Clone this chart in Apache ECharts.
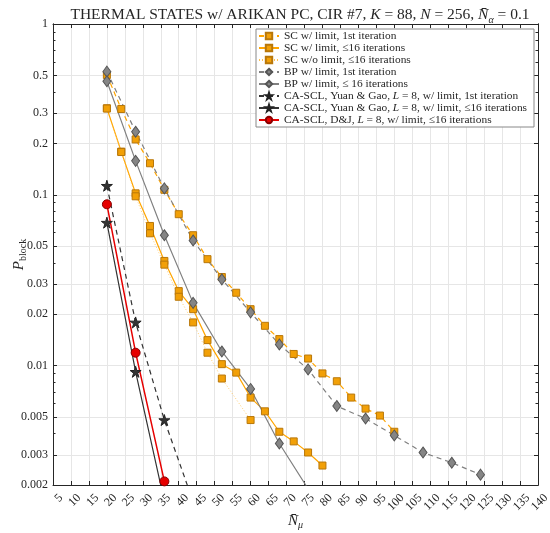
<!DOCTYPE html>
<html>
<head>
<meta charset="utf-8">
<script src="https://cdn.jsdelivr.net/npm/echarts@6/dist/echarts.min.js"></script>
<style>
  html, body { margin: 0; padding: 0; background: #fff; }
  #chart { width: 550px; height: 533px; }
</style>
</head>
<body>
<div id="chart"></div>
<script>
// values
const scFirstX = [20, 24, 28, 32, 36, 40, 44, 48, 52, 56, 60, 64, 68, 72, 76, 80, 84, 88, 92, 96, 100];
const scFirstY = [0.503, 0.318, 0.211, 0.153, 0.107, 0.077, 0.058, 0.042, 0.033, 0.0267, 0.0214, 0.0171, 0.0143, 0.0117, 0.011, 0.009, 0.0081, 0.0065, 0.0056, 0.0051, 0.0041];
const scAllX = [20, 24, 28, 32, 36, 40, 44, 48, 52, 56, 60, 64, 68, 72, 76, 80];
const scAllY = [0.321, 0.179, 0.102, 0.0657, 0.041, 0.0273, 0.0214, 0.0141, 0.0102, 0.0091, 0.0065, 0.0054, 0.0041, 0.0036, 0.0031, 0.0026];
const scNoLimX = [20, 24, 28, 32, 36, 40, 44, 48, 52, 60];
const scNoLimY = [0.32, 0.178, 0.098, 0.0595, 0.039, 0.0253, 0.0179, 0.0119, 0.0084, 0.0048];
const bpFirstX = [20, 28, 36, 44, 52, 60, 68, 76, 84, 92, 100, 108, 116, 124];
const bpFirstY = [0.526, 0.234, 0.109, 0.054, 0.032, 0.0205, 0.0133, 0.0095, 0.0058, 0.0049, 0.0039, 0.0031, 0.0027, 0.0023];
const bpAllX = [20, 28, 36, 44, 52, 60, 68, 76];
const bpAllY = [0.462, 0.158, 0.058, 0.0233, 0.0121, 0.0073, 0.0035, 0.0019];
const caFirstX = [20, 28, 36, 44];
const caFirstY = [0.113, 0.0179, 0.0048, 0.0016];
const caAllX = [20, 28, 36];
const caAllY = [0.0687, 0.0092, 0.0016];
const djX = [20, 28, 36];
const djY = [0.088, 0.0119, 0.0021];

const yLabels = [0.002, 0.003, 0.005, 0.01, 0.02, 0.03, 0.05, 0.1, 0.2, 0.3, 0.5, 1];
const yMinor = [0.004, 0.006, 0.007, 0.008, 0.009, 0.04, 0.06, 0.07, 0.08, 0.09, 0.4, 0.6, 0.7, 0.8, 0.9];

const names = [
  'SC w/ limit, 1st iteration',
  'SC w/ limit, \u226416 iterations',
  'SC w/o limit, \u226416 iterations',
  'BP w/ limit, 1st iteration',
  'BP w/ limit, \u2264 16 iterations',
  'CA-SCL, Yuan & Gao, L = 8, w/ limit, 1st iteration',
  'CA-SCL, Yuan & Gao, L = 8, w/ limit, \u226416 iterations',
  'CA-SCL, D&J, L = 8, w/ limit, \u226416 iterations'
];

const serif = '"Liberation Serif", "DejaVu Serif", serif';
const ink = '#262626';
const grey = '#e6e6e6';
const starPath = 'path://M50,0 L61,35 L98,35 L68,57 L79,91 L50,70 L21,91 L32,57 L2,35 L39,35 Z';

function pairs(xs, ys) {
  return xs.map((x, i) => [x, ys[i]]);
}

function line(name, xs, ys, color, type, width, symbol, size, fill, border) {
  return {
    name: name,
    type: 'line',
    data: pairs(xs, ys),
    clip: true,
    symbol: symbol,
    symbolSize: size,
    showAllSymbol: true,
    lineStyle: { color: color, width: width, type: type },
    itemStyle: { color: fill, borderColor: border, borderWidth: 1 },
    emphasis: { disabled: true },
    animation: false
  };
}

const orange = '#FFA500';
const series = [
  line(names[0], scFirstX, scFirstY, orange, [5, 4], 1.2, 'rect', 7, '#F2A007', '#B8770A'),
  line(names[1], scAllX, scAllY, orange, 'solid', 1.2, 'rect', 7, '#F2A007', '#B8770A'),
  line(names[2], scNoLimX, scNoLimY, '#FFC04D', [1, 2], 0.8, 'rect', 7, '#F2A007', '#B8770A'),
  line(names[3], bpFirstX, bpFirstY, '#808080', [5, 4], 1.2, 'diamond', [8, 11], '#858585', '#555'),
  line(names[4], bpAllX, bpAllY, '#808080', 'solid', 1.2, 'diamond', [8, 11], '#858585', '#555'),
  line(names[5], caFirstX, caFirstY, '#333', [5, 4], 1.2, starPath, 11, '#333', '#222'),
  line(names[6], caAllX, caAllY, '#333', 'solid', 1.2, starPath, 11, '#333', '#222'),
  line(names[7], djX, djY, '#E60000', 'solid', 1.5, 'circle', 9, '#E60000', '#8B0000')
];

function fmtY(v) {
  return String(+(+v).toPrecision(3));
}

const yBase = {
  type: 'log',
  logBase: 10,
  min: 0.002,
  max: 1,
  gridIndex: 0,
  axisLine: { show: true, onZero: false, lineStyle: { color: ink, width: 1 } },
  splitLine: { show: false },
  axisLabel: { show: false },
  axisTick: { show: false }
};

const subRich = {
  i: { fontFamily: serif, fontSize: 15, fontStyle: 'italic', color: ink, lineHeight: 18 },
  s: { fontFamily: serif, fontSize: 10, fontStyle: 'italic', color: ink, verticalAlign: 'bottom', lineHeight: 18 },
  r: { fontFamily: serif, fontSize: 10, color: ink, verticalAlign: 'bottom', lineHeight: 18 }
};

const chart = echarts.init(document.getElementById('chart'));
chart.setOption({
  backgroundColor: '#fff',
  animation: false,
  title: {
    text: 'THERMAL STATES w/ ARIKAN PC, CIR #7, {i|K} = 88, {i|N} = 256, {i|N\u0304}{s|\u03b1} = 0.1',
    left: 295,
    textAlign: 'center',
    top: 0,
    textStyle: {
      fontFamily: serif, fontSize: 15.5, fontWeight: 'normal', color: ink, lineHeight: 20,
      rich: {
        i: { fontFamily: serif, fontSize: 15.5, fontStyle: 'italic', color: ink, lineHeight: 20 },
        s: { fontFamily: serif, fontSize: 10, fontStyle: 'italic', color: ink, verticalAlign: 'bottom', lineHeight: 20 }
      }
    }
  },
  grid: [
    { left: 53, right: 12, top: 24, bottom: 48, containLabel: false, outerBoundsMode: 'none' },
    // same width, nudged right: carries the rotated x tick labels the way MATLAB places them
    { left: 61, right: 4, top: 24, bottom: 48, containLabel: false, outerBoundsMode: 'none' }
  ],
  legend: {
    orient: 'vertical',
    left: 256,
    top: 29,
    data: names,
    padding: [1, 7, 1, 2],
    itemWidth: 20,
    itemHeight: 8,
    itemGap: 0,
    backgroundColor: '#fff',
    borderColor: '#888',
    borderWidth: 1,
    borderRadius: 0,
    formatter: n => n.replace('L = ', '{i|L} = '),
    textStyle: {
      fontFamily: serif, fontSize: 11.4, color: ink, lineHeight: 12,
      rich: { i: { fontFamily: serif, fontSize: 11.4, fontStyle: 'italic', color: ink, lineHeight: 12 } }
    }
  },
  xAxis: [
    {
      type: 'value', min: 5, max: 140, interval: 5, position: 'bottom', gridIndex: 0,
      name: '{i|N\u0304}{s|\u03bc}',
      nameLocation: 'middle',
      nameGap: 27,
      nameMoveOverlap: false,
      nameTextStyle: { rich: subRich },
      axisLine: { show: true, onZero: false, lineStyle: { color: ink } },
      axisTick: { inside: true, length: 4, lineStyle: { color: ink } },
      axisLabel: { show: false },
      splitLine: { show: true, lineStyle: { color: grey, width: 1 } }
    },
    {
      type: 'value', min: 5, max: 140, interval: 5, position: 'top', gridIndex: 0,
      axisLine: { show: true, onZero: false, lineStyle: { color: ink } },
      axisTick: { inside: true, length: 4, lineStyle: { color: ink } },
      axisLabel: { show: false },
      splitLine: { show: false }
    },
    {
      type: 'value', min: 5, max: 140, interval: 5, position: 'bottom', gridIndex: 1,
      axisLine: { show: false },
      axisTick: { show: false },
      splitLine: { show: false },
      axisLabel: {
        rotate: 45, interval: 0, fontFamily: serif, fontSize: 12, color: ink,
        margin: 11, showMinLabel: true, showMaxLabel: true, hideOverlap: false
      }
    }
  ],
  yAxis: [
    Object.assign({}, yBase, {
      position: 'left',
      name: '{i|P}{r|block}',
      nameLocation: 'middle',
      nameGap: 25,
      nameMoveOverlap: false,
      nameTextStyle: { rich: subRich },
      axisTick: { show: true, inside: true, length: 4, customValues: yLabels, lineStyle: { color: ink } },
      axisLabel: { show: true, customValues: yLabels, formatter: fmtY, fontFamily: serif, fontSize: 12, color: ink, margin: 5 },
      splitLine: { show: true, lineStyle: { color: grey, width: 1 } }
    }),
    Object.assign({}, yBase, {
      position: 'left',
      axisTick: { show: true, inside: true, length: 2.5, customValues: yMinor, lineStyle: { color: ink } }
    }),
    Object.assign({}, yBase, {
      position: 'right',
      axisTick: { show: true, inside: true, length: 4, customValues: yLabels, lineStyle: { color: ink } }
    }),
    Object.assign({}, yBase, {
      position: 'right',
      axisTick: { show: true, inside: true, length: 2.5, customValues: yMinor, lineStyle: { color: ink } }
    }),
    {
      type: 'value', gridIndex: 1, min: 0, max: 1, show: false
    }
  ],
  series: series
});
</script>
</body>
</html>
